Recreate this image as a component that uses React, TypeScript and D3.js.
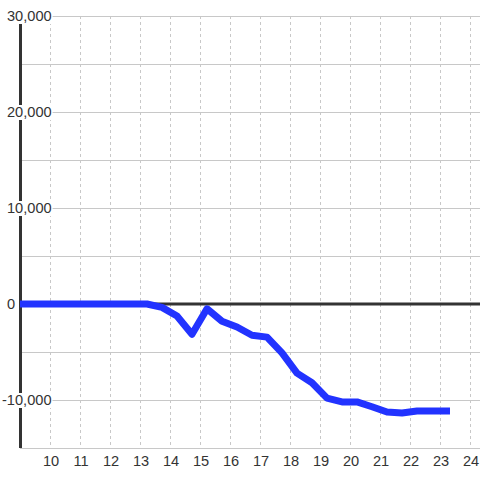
import React, { useEffect, useRef } from "react";
import * as d3 from "d3";

const hours = [9, 9.733, 10.233, 10.733, 11.233, 11.733, 12.233, 12.733, 13.233, 13.733, 14.233, 14.733, 15.233, 15.733, 16.233, 16.733, 17.233, 17.733, 18.233, 18.733, 19.233, 19.733, 20.233, 20.733, 21.233, 21.733, 22.233, 22.733, 23.333];
const values = [0, 0, 0, 0, 0, 0, 0, 0, 0, -350, -1250, -3150, -500, -1800, -2400, -3250, -3450, -5100, -7200, -8200, -9800, -10200, -10200, -10700, -11250, -11350, -11150, -11150, -11150];
const xTicks = [10, 11, 12, 13, 14, 15, 16, 17, 18, 19, 20, 21, 22, 23, 24];
const yGrid = [-15000, -10000, -5000, 0, 5000, 10000, 15000, 20000, 25000, 30000];
const yLabels = [-10000, 0, 10000, 20000, 30000];

export default function App() {
  const ref = useRef<SVGSVGElement>(null);
  useEffect(() => {
    const svg = d3.select(ref.current);
    svg.selectAll("*").remove();
    const W = 480, H = 480;
    const x = d3.scaleLinear().domain([9, 24]).range([20, 470]);
    const y = d3.scaleLinear().domain([-15000, 30000]).range([448, 16]);
    const font = "'Liberation Sans', Arial, sans-serif";
    const fs = 14.6;

    svg.append("rect").attr("width", W).attr("height", H).attr("fill", "#ffffff");

    // vertical dashed grid
    svg.append("g").selectAll("line").data(xTicks).join("line")
      .attr("x1", d => x(d)).attr("x2", d => x(d))
      .attr("y1", y(30000)).attr("y2", y(-15000))
      .attr("stroke", "#c8c8c8").attr("stroke-width", 1)
      .attr("stroke-dasharray", "3,3")
      .attr("shape-rendering", "crispEdges");

    // horizontal grid
    svg.append("g").selectAll("line").data(yGrid.filter(v => v !== 0)).join("line")
      .attr("x1", 20).attr("x2", W)
      .attr("y1", d => y(d)).attr("y2", d => y(d))
      .attr("stroke", "#c8c8c8").attr("stroke-width", 1)
      .attr("shape-rendering", "crispEdges");

    // y axis line
    svg.append("line").attr("x1", 20.5).attr("x2", 20.5)
      .attr("y1", y(30000)).attr("y2", y(-15000))
      .attr("stroke", "#333").attr("stroke-width", 3);

    // zero line
    svg.append("line").attr("x1", 20).attr("x2", W)
      .attr("y1", y(0)).attr("y2", y(0))
      .attr("stroke", "#333").attr("stroke-width", 3);

    // y labels with background
    const fmt = d3.format(",");
    const lg = svg.append("g");
    yLabels.forEach(v => {
      const t = lg.append("text")
        .attr("x", v < 0 ? 2 : 7)
        .attr("y", y(v) + 5)
        .attr("font-family", font).attr("font-size", fs)
        .attr("fill", "#333")
        .text(fmt(v).replace("−", "-"));
      const bb = (t.node() as SVGTextElement).getBBox();
      lg.insert("rect", "text")
        .attr("x", bb.x - 1).attr("y", y(v) - 7)
        .attr("width", bb.width + 2).attr("height", 15)
        .attr("fill", "#ffffff");
    });
    lg.selectAll("text").raise();

    // x labels
    svg.append("g").selectAll("text").data(xTicks).join("text")
      .attr("x", d => x(d) + 1).attr("y", 466)
      .attr("text-anchor", "middle")
      .attr("font-family", font).attr("font-size", fs)
      .attr("fill", "#333")
      .text(d => String(d));

    // data line
    const pts: [number, number][] = hours.map((h, i) => [h, values[i]]);
    const line = d3.line<[number, number]>().x(d => x(d[0])).y(d => y(d[1]));
    svg.append("path").attr("d", line(pts) as string)
      .attr("fill", "none").attr("stroke", "#2233ff")
      .attr("stroke-width", 7).attr("stroke-linejoin", "round");
  }, []);
  return (
    <svg ref={ref} width={480} height={480}
      style={{ position: "absolute", left: 0, top: 0, display: "block" }} />
  );
}
